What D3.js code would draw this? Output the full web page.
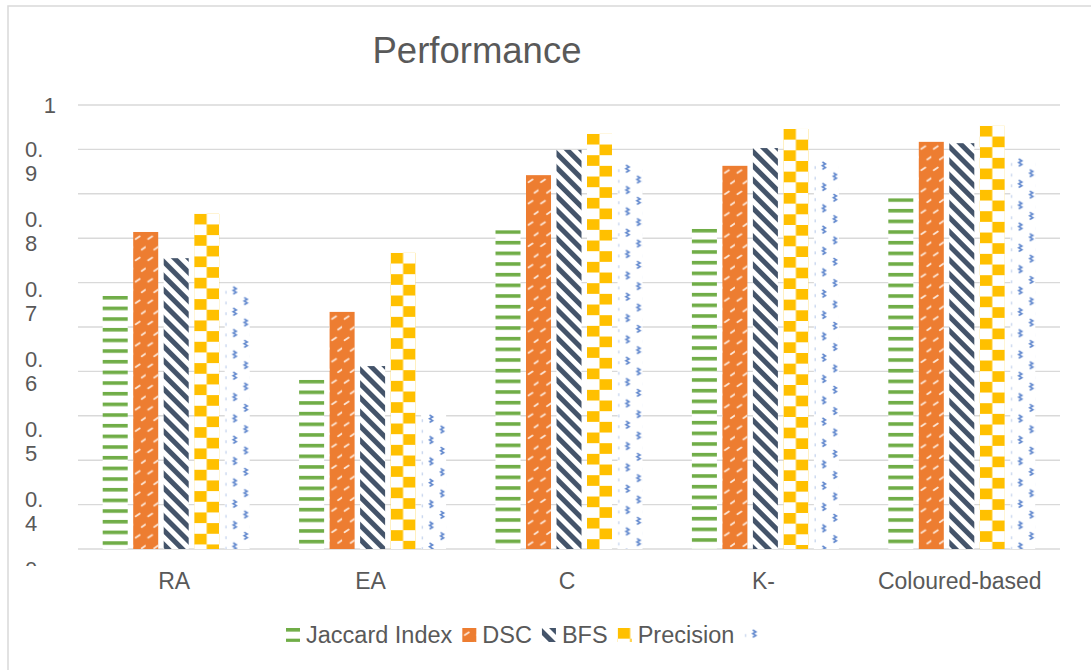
<!DOCTYPE html>
<html>
<head>
<meta charset="utf-8">
<script src="https://cdn.jsdelivr.net/npm/d3@7"></script>
<style>
  body { margin: 0; background: #fff; }
  svg { display: block; }
  text { font-family: "Liberation Sans", Arial, sans-serif; fill: #595959; }
</style>
</head>
<body>
<svg id="chart" width="1091" height="670"></svg>
<script>
// ---- data ----
const categories = ["RA", "EA", "C", "K-", "Coloured-based"];
const seriesNames = ["Jaccard Index", "DSC", "BFS", "Precision", ""];
const jaccard   = [0.570, 0.381, 0.718, 0.721, 0.790];
const dsc       = [0.714, 0.534, 0.842, 0.863, 0.917];
const bfs       = [0.655, 0.412, 0.899, 0.903, 0.914];
const precision = [0.755, 0.667, 0.935, 0.946, 0.953];
const series5   = [0.595, 0.306, 0.869, 0.876, 0.883];
const gridTicks = [0, 0.1, 0.2, 0.3, 0.4, 0.5, 0.6, 0.7, 0.8, 0.9, 1];
const yTickLabels = ["0.9", "0.8", "0.7", "0.6", "0.5", "0.4", "0.3"];
const topTickLabel = "1";

const seriesValues = [jaccard, dsc, bfs, precision, series5];
const seriesKeys = d3.range(seriesNames.length);

const svg = d3.select("#chart");
const defs = svg.append("defs");

// ---- fill patterns ----
const cell = 32 / 3;
// 0: green horizontal stripes
const p0 = defs.append("pattern").attr("id", "pat0").attr("patternUnits", "userSpaceOnUse")
  .attr("width", 25).attr("height", cell);
p0.append("rect").attr("width", 25).attr("height", cell).attr("fill", "#fff");
p0.append("rect").attr("y", 0).attr("width", 25).attr("height", 3.6).attr("fill", "#70AD47");

// 1: orange with small light dashes
const p1 = defs.append("pattern").attr("id", "pat1").attr("patternUnits", "userSpaceOnUse")
  .attr("width", 12.5).attr("height", cell * 2);
p1.append("rect").attr("width", 12.5).attr("height", cell * 2).attr("fill", "#ED7D31");
p1.append("path").attr("d", "M2.5,7 L6.5,4.3 M8.5,17.7 L12.3,15")
  .attr("stroke", "#fde6d6").attr("stroke-width", 1.8).attr("stroke-linecap", "round");

// 2: navy diagonal stripes
const p2 = defs.append("pattern").attr("id", "pat2").attr("patternUnits", "userSpaceOnUse")
  .attr("width", 10).attr("height", 10).attr("patternTransform", "rotate(45)");
p2.append("rect").attr("width", 10).attr("height", 10).attr("fill", "#fff");
p2.append("rect").attr("width", 10).attr("height", 5).attr("fill", "#44546A");

// 3: gold checkerboard
const p3 = defs.append("pattern").attr("id", "pat3").attr("patternUnits", "userSpaceOnUse")
  .attr("width", 25).attr("height", cell * 2);
p3.append("rect").attr("width", 25).attr("height", cell * 2).attr("fill", "#fff");
p3.append("rect").attr("x", 0).attr("y", 0).attr("width", 12.5).attr("height", cell).attr("fill", "#FFC000");
p3.append("rect").attr("x", 12.5).attr("y", cell).attr("width", 12.5).attr("height", cell).attr("fill", "#FFC000");

// 4: blue small zigzag marks on white
const p4 = defs.append("pattern").attr("id", "pat4").attr("patternUnits", "userSpaceOnUse")
  .attr("width", 25).attr("height", cell * 2);
p4.append("rect").attr("width", 25).attr("height", cell * 2).attr("fill", "#fff");
p4.append("path")
  .attr("d", "M8.5,2 l3,1.8 l-3,1.8 l3,1.8 l-3,1.8 M19.5,12.7 l3,1.8 l-3,1.8 l3,1.8 l-3,1.8")
  .attr("fill", "none").attr("stroke", "#4472C4").attr("stroke-width", 1.6).attr("opacity", 0.85);
p4.append("path").attr("d", "M1.2,6 v3 M1.2,16.7 v3")
  .attr("stroke", "#8faadc").attr("stroke-width", 1).attr("opacity", 0.7);

// ---- chart frame ----
svg.append("rect").attr("x", 8).attr("y", 6).attr("width", 1100).attr("height", 700)
  .attr("fill", "none").attr("stroke", "#D9D9D9").attr("stroke-width", 1.5);

svg.append("text").attr("x", 477).attr("y", 63).attr("text-anchor", "middle")
  .attr("font-size", 36.5).text("Performance");

// ---- scales ----
const plotLeft = 78, plotRight = 1060, plotTop = 105, plotBottom = 549;
const y = d3.scaleLinear().domain([0, 1]).range([plotBottom, plotTop]);
const x0 = d3.scaleBand().domain(categories).range([plotLeft, plotRight]).padding(0);
const groupPad = (x0.bandwidth() - 147) / 2;
const x1 = d3.scaleBand().domain(seriesKeys).range([groupPad, x0.bandwidth() - groupPad]).paddingInner(0.18);

// gridlines
svg.append("g").selectAll("line").data(gridTicks).join("line")
  .attr("x1", plotLeft).attr("x2", plotRight)
  .attr("y1", d => y(d)).attr("y2", d => y(d))
  .attr("stroke", "#D9D9D9").attr("stroke-width", 1.4);

// ---- bars ----
const groups = svg.append("g").selectAll("g").data(categories).join("g")
  .attr("transform", d => `translate(${x0(d)},0)`);

groups.selectAll("g").data((c, ci) => seriesKeys.map(k => ({ k, v: seriesValues[k][ci] })))
  .join("g")
  .attr("transform", d => `translate(${x1(d.k)},${y(d.v)})`)
  .append("rect")
  .attr("width", x1.bandwidth())
  .attr("height", d => y(0) - y(d.v))
  .attr("fill", d => `url(#pat${d.k})`);

// ---- y-axis labels (wrapped) ----
const labelY = d3.scaleLinear().domain([0.9, 0.3]).range([157, 577]);
defs.append("clipPath").attr("id", "yclip").append("rect")
  .attr("x", 0).attr("y", 80).attr("width", 75).attr("height", 486);
const yAxisG = svg.append("g").attr("clip-path", "url(#yclip)").attr("font-size", 22);
yAxisG.append("text").attr("x", 56).attr("y", y(1) + 8).attr("text-anchor", "end").text(topTickLabel);
yAxisG.selectAll("text.wrapped").data(yTickLabels).join("text")
  .attr("class", "wrapped")
  .attr("x", 25)
  .attr("y", d => labelY(+d))
  .each(function (d) {
    const lines = [d.slice(0, 2), d.slice(2)];
    d3.select(this).selectAll("tspan").data(lines).join("tspan")
      .attr("x", 25).attr("dy", (l, i) => i === 0 ? 0 : 24).text(l => l);
  });

// ---- x-axis category labels ----
svg.append("g").selectAll("text").data(categories).join("text")
  .attr("x", d => x0(d) + x0.bandwidth() / 2 - 2)
  .attr("y", 589)
  .attr("text-anchor", "middle")
  .attr("font-size", 23)
  .text(d => d);

// ---- legend ----
const legend = svg.append("g").attr("font-size", 23.5);
let lx = 286;
seriesKeys.forEach(k => {
  const item = legend.append("g").attr("transform", `translate(${lx},628)`);
  item.append("rect").attr("width", 14).attr("height", 14).attr("fill", `url(#pat${k})`);
  const t = item.append("text").attr("x", 20).attr("y", 15).text(seriesNames[k]);
  const w = seriesNames[k] ? t.node().getComputedTextLength() : 0;
  lx += 20 + w + 10;
});
</script>
</body>
</html>
